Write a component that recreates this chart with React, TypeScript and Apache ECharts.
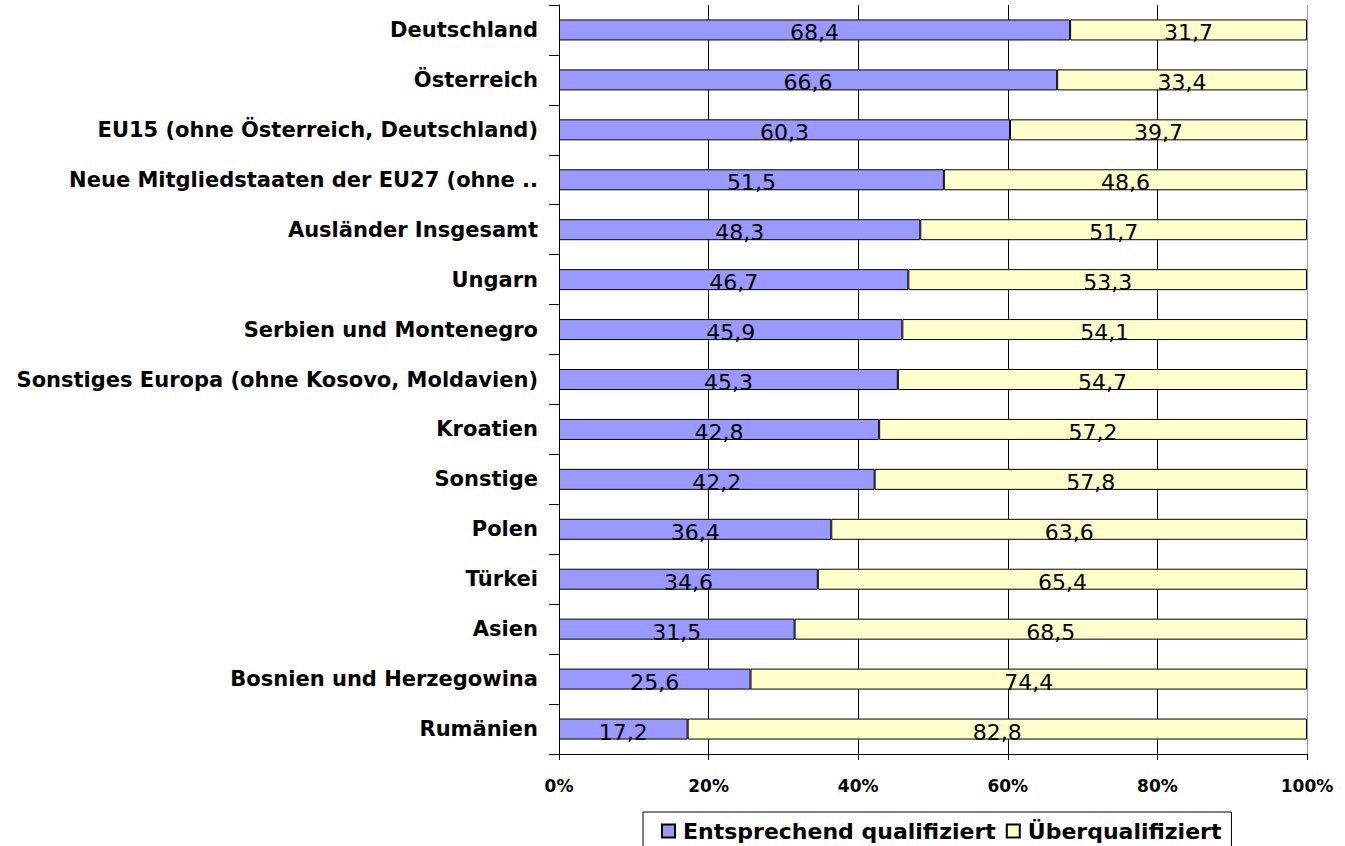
import React, { useEffect, useRef } from "react";
import * as echarts from "echarts";

const categories = [
  "Deutschland",
  "Österreich",
  "EU15 (ohne Österreich, Deutschland)",
  "Neue Mitgliedstaaten der EU27 (ohne ..",
  "Ausländer Insgesamt",
  "Ungarn",
  "Serbien und Montenegro",
  "Sonstiges Europa (ohne Kosovo, Moldavien)",
  "Kroatien",
  "Sonstige",
  "Polen",
  "Türkei",
  "Asien",
  "Bosnien und Herzegowina",
  "Rumänien",
];
const entsprechend = [68.4, 66.6, 60.3, 51.5, 48.3, 46.7, 45.9, 45.3, 42.8, 42.2, 36.4, 34.6, 31.5, 25.6, 17.2];
const ueberqualifiziert = [31.7, 33.4, 39.7, 48.6, 51.7, 53.3, 54.1, 54.7, 57.2, 57.8, 63.6, 65.4, 68.5, 74.4, 82.8];
const seriesNames = ["Entsprechend qualifiziert", "Überqualifiziert"];
const xTicks = [0, 20, 40, 60, 80, 100];

const FONT = "'DejaVu Sans', sans-serif";

export default function App() {
  const ref = useRef<HTMLDivElement>(null);
  useEffect(() => {
    if (!ref.current) return;
    const chart = echarts.init(ref.current, undefined, { renderer: "svg" });
    const totals = entsprechend.map((v, i) => v + ueberqualifiziert[i]);
    const mk = (raw: number[]) =>
      raw.map((v, i) => ({ value: (v / totals[i]) * 100, raw: v }));
    const labelCfg = {
      show: true,
      position: "inside",
      color: "#000",
      fontFamily: FONT,
      fontSize: 22,
      offset: [0, 3],
      formatter: (p: any) => String(p.data.raw).replace(".", ","),
    };
    chart.setOption({
      animation: false,
      textStyle: { fontFamily: FONT },
      grid: { left: 559, right: 38, top: 5, bottom: 92, containLabel: false },
      xAxis: {
        type: "value",
        min: xTicks[0],
        max: xTicks[xTicks.length - 1],
        interval: 20,
        axisLine: { show: true, lineStyle: { color: "#000", width: 1 } },
        axisTick: { show: true, length: 6, lineStyle: { color: "#000" } },
        axisLabel: {
          formatter: "{value}%",
          color: "#000",
          fontWeight: "bold",
          fontSize: 17,
          fontFamily: FONT,
          margin: 23,
        },
        splitLine: {
          show: true,
          lineStyle: { color: ["#000", "#000", "#000", "#000", "#000", "#999"], width: 1 },
        },
      },
      yAxis: {
        type: "category",
        data: categories,
        inverse: true,
        axisLine: { show: true, lineStyle: { color: "#000", width: 1 } },
        axisTick: { show: true, length: 10, lineStyle: { color: "#000" } },
        axisLabel: {
          color: "#000",
          fontWeight: "bold",
          fontSize: 21,
          fontFamily: FONT,
          margin: 21,
        },
        splitLine: { show: false },
      },
      legend: {
        top: 812,
        left: 643,
        data: seriesNames,
        icon: "rect",
        itemWidth: 13,
        itemHeight: 13,
        itemGap: 10,
        borderColor: "#000",
        borderWidth: 1,
        padding: [8, 10, 8, 18],
        textStyle: { color: "#000", fontWeight: "bold", fontSize: 22, fontFamily: FONT, padding: [0, 0, 0, 3] },
      },
      series: [
        {
          name: seriesNames[0],
          type: "bar",
          stack: "total",
          barWidth: 21,
          data: mk(entsprechend),
          itemStyle: { color: "#9999FF", borderColor: "#000", borderWidth: 1 },
          label: labelCfg,
        },
        {
          name: seriesNames[1],
          type: "bar",
          stack: "total",
          barWidth: 21,
          data: mk(ueberqualifiziert),
          itemStyle: { color: "#FFFFCC", borderColor: "#000", borderWidth: 1 },
          label: labelCfg,
        },
      ],
    });
    return () => chart.dispose();
  }, []);
  return (
    <div
      ref={ref}
      style={{ position: "fixed", left: 0, top: 0, width: 1345, height: 846, background: "#fff" }}
    />
  );
}
